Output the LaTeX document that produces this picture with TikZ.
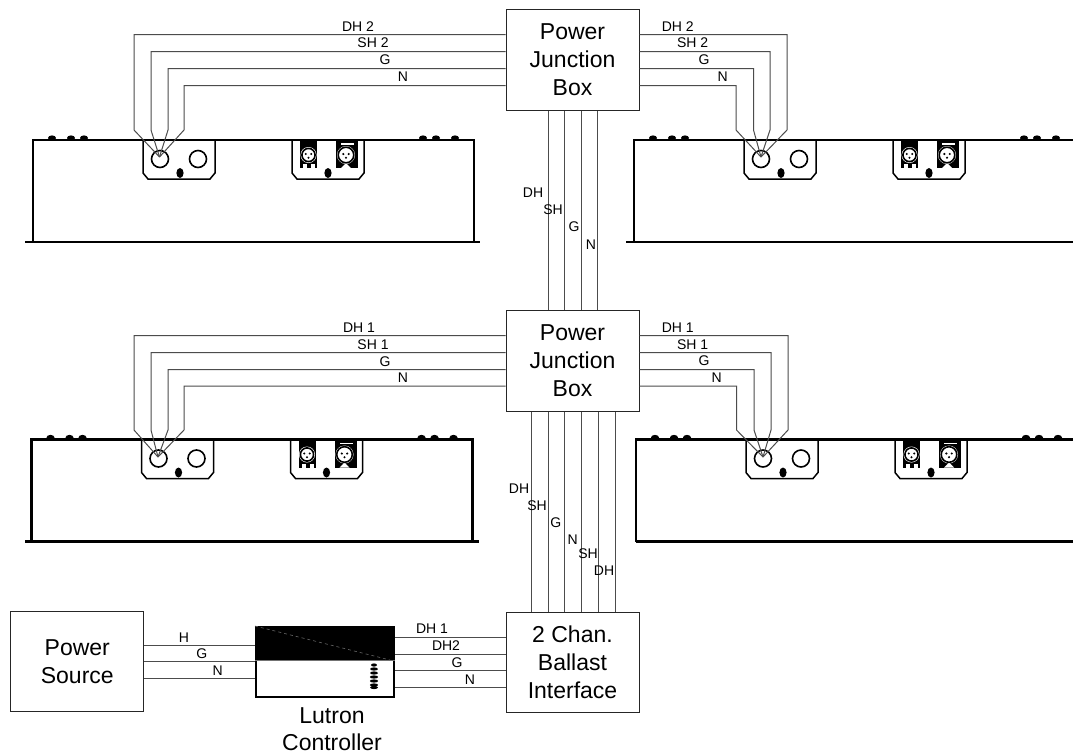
\documentclass[tikz,border=0pt]{standalone}
\usepackage{fontspec}
\setmainfont{Liberation Sans}
\usetikzlibrary{calc}
\tikzset{
  wire/.style={draw=black!70,line width=1pt},
  body/.style={draw=black,line width=1.5pt},
  bigbox/.style={draw=black!85,line width=1pt,fill=white,align=center,inner sep=0pt,
     minimum width=133pt,font=\fontsize{23}{28}\selectfont},
  lab/.style={inner sep=0pt,font=\fontsize{14}{16}\selectfont},
}
\newcommand{\fixture}[3]{%
 \begin{scope}[shift={(#1,#2)}]
  \draw[line width=2.3pt] (33,242) -- (33,140) -- (474,140) -- (474,242);
  \draw[line width=2.8pt] (#3,242) -- (480,242);
  \foreach \bx in {52,71,84,423,436,455}
    \fill (\bx,138) ellipse (4 and 2.6);
  % lamp panel
  \draw[body] (143,140) -- (143,173) -- (148,179) -- (210,179) -- (215,173) -- (215,140);
  \draw[line width=1.6pt] (160,159) circle (8.5);
  \draw[line width=1.6pt] (198,159) circle (8.5);
  \fill (180,173) ellipse (3.6 and 5);
  % connector panel
  \draw[body] (292,140) -- (292,173) -- (297,179) -- (359,179) -- (364,173) -- (364,140);
  \fill (300,140) rectangle (317,168);
  \fill (336,140) rectangle (358,168);
  \fill[white] (303,164) rectangle (307,168);
  \fill[white] (311,164) rectangle (315,168);
  \fill[white] (341,168) -- (346,163) -- (351,168) -- cycle;
  \fill[white] (341,143) rectangle (354,144.5);
  \fill[white] (308.5,155) circle (8);
  \fill[white] (346,155) circle (9);
  \draw[line width=1.6pt] (308.5,155) circle (6.6);
  \draw[line width=1.6pt] (346,155) circle (7.8);
  \foreach \dx/\dy in {-2.7/-1,2.7/-1,0/2.7}{
    \fill (308.5+\dx,155+\dy) circle (1.1);
    \fill (346+\dx,155+\dy) circle (1.2);
  }
  \fill (328,173) ellipse (3.6 and 5);
 \end{scope}}
\begin{document}
\begin{tikzpicture}[x=1pt,y=-1pt]
\useasboundingbox (0,0) rectangle (1073,753);
\fill[white] (0,0) rectangle (1073,753);
\begin{scope}
 \clip (0,0) rectangle (1073,753);
 \fixture{0}{0}{25}
 \fixture{601}{0}{25}
 \fixture{-1.5}{299.5}{26.5}
 \fixture{603}{299.5}{33}
\end{scope}
% boxes
\node[bigbox,minimum height=100.5pt] (pj1) at (572.5,60) {Power\\Junction\\Box};
\node[bigbox,minimum height=100.5pt] (pj2) at (572.5,361) {Power\\Junction\\Box};
\node[bigbox,minimum height=99.5pt] (bi) at (572.5,662.5) {2 Chan.\\Ballast\\Interface};
\node[bigbox,minimum height=99.5pt] (src) at (77.3,661.5) {Power\\Source};
\node[draw=black,line width=2pt,fill=white,minimum width=138pt,minimum height=70pt,inner sep=0pt] (lut) at (325,662) {};
\fill (lut.north west) rectangle (394,660);
\draw[black!55,line width=1pt] (lut.west |- 0,660) -- (lut.east |- 0,660);
\draw[black!60,line width=0.6pt,dashed] (lut.north west) -- (390,660);
\foreach \dy/\dw in {665/3,669/4,673/4,677/4.2,681/4.2,685/4.2,687.5/4}
  \fill (374,\dy) ellipse (\dw pt and 1.6pt);
\node[align=center,inner sep=0pt,font=\fontsize{23}{27}\selectfont] (lutlab) at (332,729) {Lutron\\Controller};
% sockets
\coordinate (s1) at (159.5,157);
\coordinate (s2) at (761,157);
\coordinate (s3) at (158,457);
\coordinate (s4) at (763,457);
% upper and middle wires
\foreach \y/\x in {34.5/134,51.7/151,68.5/168,85.5/184}
  \draw[wire] (pj1.west |- 0,\y) -- (\x,\y) -- (\x,130) -- (s1);
\foreach \y/\x in {34.5/787,51.7/770,68.5/753.5,85.5/736}
  \draw[wire] (pj1.east |- 0,\y) -- (\x,\y) -- (\x,130) -- (s2);
\foreach \y/\x in {335.7/134,352.7/151,369.7/168,386/184}
  \draw[wire] (pj2.west |- 0,\y) -- (\x,\y) -- (\x,430) -- (s3);
\foreach \y/\x in {335.7/788,352.7/771,369.7/754,386/736.5}
  \draw[wire] (pj2.east |- 0,\y) -- (\x,\y) -- (\x,430) -- (s4);
% verticals
\foreach \x in {548,564.5,581,597.5}
  \draw[wire] (\x,0 |- pj1.south) -- (\x,0 |- pj2.north);
\foreach \x in {531.5,548,564.5,581,598,615}
  \draw[wire] (\x,0 |- pj2.south) -- (\x,0 |- bi.north);
% bottom wires
\foreach \y in {645,661.7,678}
  \draw[wire] (src.east |- 0,\y) -- (lut.west |- 0,\y);
\foreach \y in {637,654,670.7,687}
  \draw[wire] (lut.east |- 0,\y) -- (bi.west |- 0,\y);
% labels
\foreach \n/\x/\y/\t in {
  a/358/26.5/DH 2,b/373/43/SH 2,c/385/60/G,d/403/77/N,
  e/677.7/26.5/DH 2,f/692.7/43/SH 2,g/704/60/G,h/722.7/77/N,
  i/359/328/DH 1,j/373/345/SH 1,k/385/362/G,l/403/378/N,
  m/677.7/328/DH 1,n/692.7/345/SH 1,o/704/361/G,p/716.7/378/N,
  q/184/637.7/H,r/201.7/654/G,s/217.7/671/N,
  t/432/629/DH 1,u/446/646/DH2,v/457/663/G,w/470/680/N,
  aa/533/193/DH,ab/553/210/SH,ac/574/227/G,ad/591/245/N,
  ae/519/489/DH,af/537/506/SH,ag/555.7/523/G,ah/572.7/540/N,ai/588/553.7/SH,aj/604/571/DH}
  \node[lab] (lab\n) at (\x,\y) {\t};
\end{tikzpicture}
\end{document}
